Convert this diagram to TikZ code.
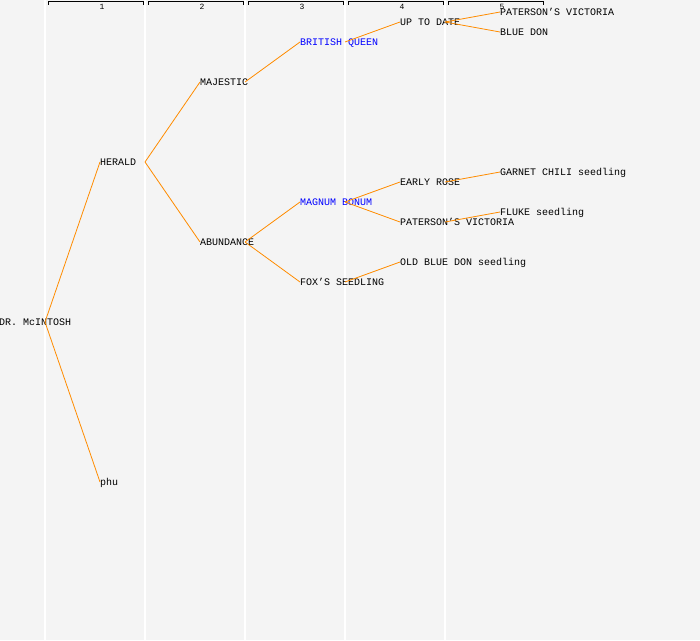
\documentclass[tikz,border=0pt]{standalone}
\usepackage{fontspec}
\setmonofont{Liberation Mono}
\usetikzlibrary{positioning}
\definecolor{panel}{HTML}{F4F4F4}
\definecolor{branch}{HTML}{FF8C00}

\begin{document}
\begin{tikzpicture}[x = 1pt, y = -1pt, font = \ttfamily\fontsize{10}{10}\selectfont,
	plant/.style = {anchor = west, inner sep = 0pt, text height = 6.5pt, text depth = 0pt},
	pick/.style = {plant, text = blue},
	line/.style = {draw = branch, line width = 0.8pt}]
			\fill [panel] (0,0) rectangle (700,640);
			\useasboundingbox (0,0) rectangle (700,640);
			
			% generation columns
			\foreach \i in {0,...,4} {
				\coordinate (sep\i) at (45+100*\i, 0);
				\draw [white, line width = 1.5pt] (sep\i) -- ++(0,640);
			}
			\foreach \i in {1,...,5} {
				\draw [line width = 1pt] (100*\i-52, 4.5) -- ++(0,-3) -- ++(95,0) -- ++(0,3);
				\node [inner sep = 0pt, font = \ttfamily\fontsize{8}{8}\selectfont] (head\i) at (100*\i+2, 6.5) {\i};
			}
			
			\node [plant] (mcintosh) at (-1, 322) {DR. McINTOSH};
			\node [plant] (herald) at (100, 162) {HERALD};
			\node [plant] (phu) at (100, 482) {phu};
			\node [plant] (majestic) at (200, 82) {MAJESTIC};
			\node [plant] (abundance) at (200, 242) {ABUNDANCE};
			\node [pick] (queen) at (300, 42) {BRITISH QUEEN};
			\node [pick] (bonum) at (300, 202) {MAGNUM BONUM};
			\node [plant] (foxs) at (300, 282) {FOX’S SEEDLING};
			\node [plant] (uptodate) at (400, 22) {UP TO DATE};
			\node [plant] (earlyrose) at (400, 182) {EARLY ROSE};
			\node [plant] (victoria) at (400, 222) {PATERSON’S VICTORIA};
			\node [plant] (oldblue) at (400, 262) {OLD BLUE DON seedling};
			\node [plant] (victoria2) at (500, 12) {PATERSON’S VICTORIA};
			\node [plant] (bluedon) at (500, 32) {BLUE DON};
			\node [plant] (garnet) at (500, 172) {GARNET CHILI seedling};
			\node [plant] (fluke) at (500, 212) {FLUKE seedling};
			
			\path [line] (mcintosh -| sep0) -- (herald.west);
			\path [line] (mcintosh -| sep0) -- (phu.west);
			\path [line] (herald -| sep1) -- (majestic.west);
			\path [line] (herald -| sep1) -- (abundance.west);
			\path [line] (majestic -| sep2) -- (queen.west);
			\path [line] (abundance -| sep2) -- (bonum.west);
			\path [line] (abundance -| sep2) -- (foxs.west);
			\path [line] (queen -| sep3) -- (uptodate.west);
			\path [line] (bonum -| sep3) -- (earlyrose.west);
			\path [line] (bonum -| sep3) -- (victoria.west);
			\path [line] (foxs -| sep3) -- (oldblue.west);
			\path [line] (uptodate -| sep4) -- (victoria2.west);
			\path [line] (uptodate -| sep4) -- (bluedon.west);
			\path [line] (earlyrose -| sep4) -- (garnet.west);
			\path [line] (victoria -| sep4) -- (fluke.west);
		\end{tikzpicture}
\end{document}
